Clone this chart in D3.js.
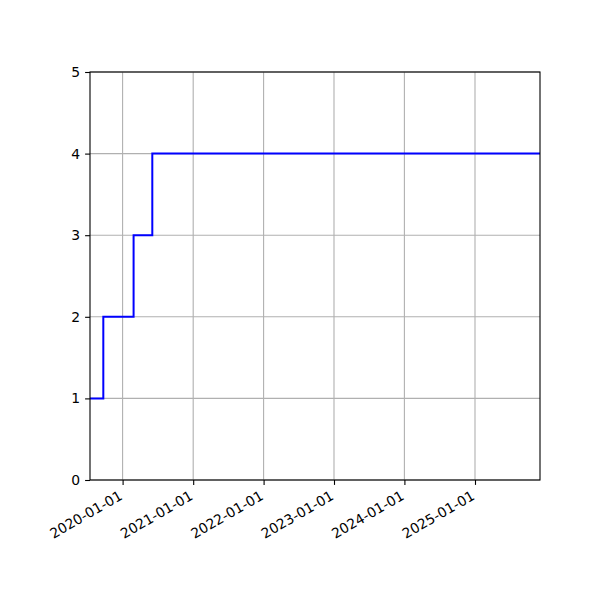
<!DOCTYPE html>
<html>
<head>
<meta charset="utf-8">
<script src="https://cdn.jsdelivr.net/npm/d3@7"></script>
<style>
  body { margin: 0; background: #fff; }
  svg { font-family: "DejaVu Sans", sans-serif; }
</style>
</head>
<body>
<svg id="chart" width="600" height="600"></svg>
<script>
// step series (value holds until the next date)
const dates = ['2019-07-16', '2019-09-23', '2020-02-27', '2020-06-03', '2025-12-04']
const values = [1, 2, 3, 4, 4]
const xTickLabels = ['2020-01-01', '2021-01-01', '2022-01-01', '2023-01-01', '2024-01-01', '2025-01-01']
const yTickValues = [0, 1, 2, 3, 4, 5]

const parse = d3.utcParse('%Y-%m-%d')
const data = dates.map((d, i) => ({ date: parse(d), value: values[i] }))

const margin = { top: 72, right: 60, bottom: 120, left: 90 }
const width = 600 - margin.left - margin.right
const height = 600 - margin.top - margin.bottom
const fontSize = '13.9px'
const tickLen = 4.9

const svg = d3.select('#chart')
const chart = svg.append('g').attr('transform', `translate(${margin.left}, ${margin.top})`)

const x = d3.scaleUtc()
    .domain(d3.extent(data, d => d.date))
    .range([0, width])

const y = d3.scaleLinear()
    .domain([0, 5])
    .range([height, 0])

const xTicks = xTickLabels.map(parse)

// grid
chart.append('g')
    .selectAll('line')
    .data(xTicks)
    .join('line')
    .attr('x1', d => x(d)).attr('x2', d => x(d))
    .attr('y1', 0).attr('y2', height)
    .attr('stroke', '#b0b0b0')
    .attr('stroke-width', 1.1)

chart.append('g')
    .selectAll('line')
    .data(yTickValues)
    .join('line')
    .attr('x1', 0).attr('x2', width)
    .attr('y1', d => y(d)).attr('y2', d => y(d))
    .attr('stroke', '#b0b0b0')
    .attr('stroke-width', 1.1)

// step line
const line = d3.line()
    .x(d => x(d.date))
    .y(d => y(d.value))
    .curve(d3.curveStepAfter)

chart.append('path')
    .datum(data)
    .attr('d', line)
    .attr('fill', 'none')
    .attr('stroke', '#0000ff')
    .attr('stroke-width', 2)

// frame
chart.append('rect')
    .attr('width', width)
    .attr('height', height)
    .attr('fill', 'none')
    .attr('stroke', 'black')
    .attr('stroke-width', 1.1)

// x axis
const xAxis = chart.append('g')
    .attr('transform', `translate(0, ${height})`)
    .call(d3.axisBottom(x).tickValues(xTicks).tickSize(tickLen).tickFormat(d3.utcFormat('%Y-%m-%d')))
    .call(g => g.select('.domain').remove())
    .call(g => g.selectAll('line').attr('stroke', 'black').attr('stroke-width', 1.1))

xAxis.selectAll('text')
    .attr('font-size', fontSize)
    .attr('font-family', '"DejaVu Sans", sans-serif')
    .attr('fill', 'black')
    .attr('text-anchor', 'end')
    .attr('y', 0)
    .attr('dy', '0.75em')
    .attr('transform', 'translate(-5, 9.5) rotate(-30)')

// y axis
chart.append('g')
    .call(d3.axisLeft(y).tickValues(yTickValues).tickSize(tickLen).tickPadding(4.9).tickFormat(d3.format('d')))
    .call(g => g.select('.domain').remove())
    .call(g => g.selectAll('line').attr('stroke', 'black').attr('stroke-width', 1.1))
    .call(g => g.selectAll('text')
        .attr('font-size', fontSize)
        .attr('font-family', '"DejaVu Sans", sans-serif')
        .attr('fill', 'black'))
</script>
</body>
</html>
